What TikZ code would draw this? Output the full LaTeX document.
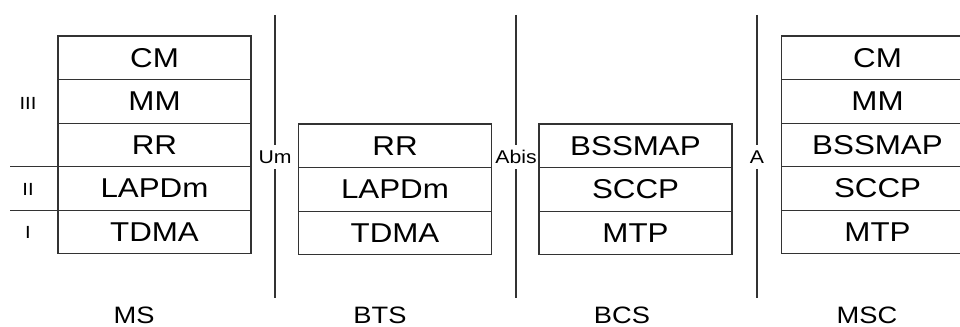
\documentclass[tikz,border=0pt]{standalone}
\usepackage{fontspec}
\setmainfont{Liberation Sans}[FakeStretch=1.15]
\usetikzlibrary{positioning}

\tikzset{
  layerbox/.style={draw=black!80,line width=0.6pt,minimum width=3.86cm,minimum height=0.872cm,
    inner sep=0pt,outer sep=0pt,font=\fontsize{15.5}{16}\selectfont},
  iface/.style={inner sep=3pt,font=\fontsize{10.5}{11}\selectfont},
  entity/.style={font=\fontsize{13.5}{15}\selectfont},
  levelname/.style={font=\fontsize{10}{11}\selectfont},
  rule/.style={draw=black!80,line width=0.6pt}
}

\begin{document}
\begin{tikzpicture}[x=0.02cm,y=-0.02cm]
\useasboundingbox (0,0) rectangle (960,327);
% MS
\node[layerbox,anchor=north] (msCM) at (154.5,36) {CM};
\node[layerbox,below=0pt of msCM] (msMM) {MM};
\node[layerbox,below=0pt of msMM] (msRR) {RR};
\node[layerbox,below=0pt of msRR] (msLAPDm) {LAPDm};
\node[layerbox,below=0pt of msLAPDm] (msTDMA) {TDMA};
% BTS
\node[layerbox,anchor=north] (btsRR) at (395,124) {RR};
\node[layerbox,below=0pt of btsRR] (btsLAPDm) {LAPDm};
\node[layerbox,below=0pt of btsLAPDm] (btsTDMA) {TDMA};
% BCS
\node[layerbox,anchor=north] (bcsBSSMAP) at (635.5,124) {BSSMAP};
\node[layerbox,below=0pt of bcsBSSMAP] (bcsSCCP) {SCCP};
\node[layerbox,below=0pt of bcsSCCP] (bcsMTP) {MTP};
% MSC
\node[layerbox,anchor=north] (mscCM) at (877.5,36) {CM};
\node[layerbox,below=0pt of mscCM] (mscMM) {MM};
\node[layerbox,below=0pt of mscMM] (mscBSSMAP) {BSSMAP};
\node[layerbox,below=0pt of mscBSSMAP] (mscSCCP) {SCCP};
\node[layerbox,below=0pt of mscSCCP] (mscMTP) {MTP};

% layer numbers
\path (msRR.south west) ++(-48,0) coordinate (lvlA);
\path (msLAPDm.south west) ++(-48,0) coordinate (lvlB);
\draw[rule] (lvlA) -- (msRR.south west);
\draw[rule] (lvlB) -- (msLAPDm.south west);
\node[levelname] (lvl3) at (28,103) {III};
\node[levelname] (lvl2) at (28,189) {II};
\node[levelname] (lvl1) at (28,232) {I};

% interfaces
\foreach \name/\x/\txt in {um/275/Um,abis/516/Abis,a/757/A}{
  \coordinate (\name top) at (\x,15);
  \coordinate (\name bot) at (\x,298);
  \node[iface] (\name) at (\x,157) {\txt};
  \draw[rule] (\name top) -- (\name);
  \draw[rule] (\name) -- (\name bot);
}

% entities
\node[entity] (ms) at (134,315.5) {MS};
\node[entity] (bts) at (380,315.5) {BTS};
\node[entity] (bcs) at (622,315.5) {BCS};
\node[entity] (msc) at (867,315.5) {MSC};
\end{tikzpicture}
\end{document}
